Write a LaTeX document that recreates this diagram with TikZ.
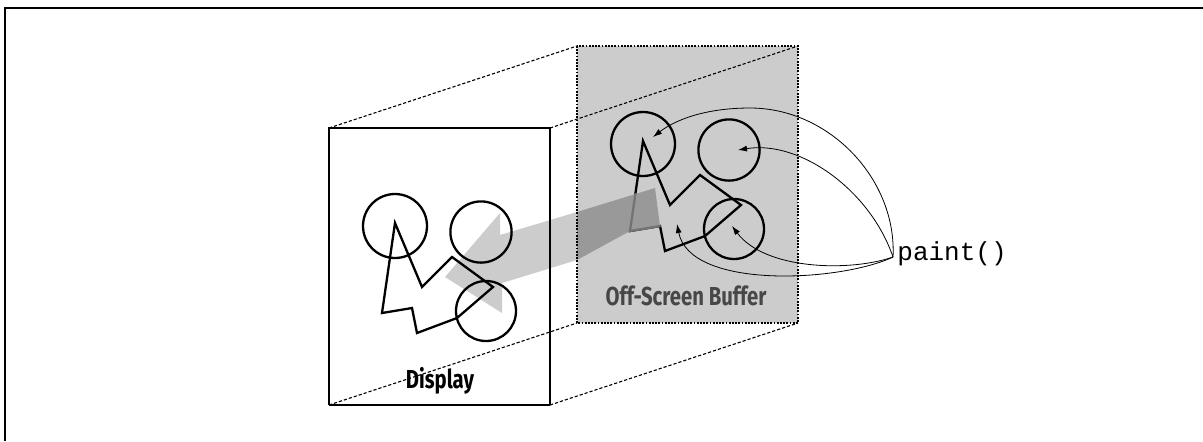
\documentclass[tikz,border=0pt]{standalone}
\usepackage{fontspec}
\newfontfamily\labelfont{Fira Sans}[FakeStretch=0.78]
\newfontfamily\codefont{Liberation Mono}
\usetikzlibrary{arrows.meta,calc}
\tikzset{
  shapeline/.style={line width=1.15pt, line join=miter},
  persp/.style={line width=0.55pt, dash pattern=on 1.6pt off 1pt},
  bufedge/.style={line width=0.8pt, dash pattern=on 0.9pt off 0.7pt},
  callarrow/.style={line width=0.4pt, -{Latex[length=4.5pt,width=3pt]}},
  lbl/.style={font=\labelfont\bfseries\fontsize{13}{15}\selectfont, inner sep=0pt},
  codelbl/.style={font=\codefont\fontsize{13}{15}\selectfont, inner sep=0pt}
}
\newcommand\ScreenShapes[1]{%
  \coordinate (#1A) at (395,223);
  \coordinate (#1B) at (422,287);
  \coordinate (#1C) at (452,257);
  \coordinate (#1D) at (493,287);
  \coordinate (#1E) at (457,318);
  \coordinate (#1F) at (417,333);
  \coordinate (#1G) at (412,308);
  \coordinate (#1H) at (382,313);
  \draw[shapeline] (395,226) circle[radius=16pt];
  \draw[shapeline] (481,232) circle[radius=15.3pt];
  \draw[shapeline] (486,311) circle[radius=15pt];
  \draw[shapeline] (#1A) -- (#1B) -- (#1C) -- (#1D) -- (#1E) -- (#1F) -- (#1G) -- (#1H) -- cycle;
}
\begin{document}
\begin{tikzpicture}[x=0.5pt,y=-0.5pt]
\useasboundingbox (0,0) rectangle (1203,441);
% frame
\draw[line width=1pt] (5,441) -- (5,8) -- (1203,8);
% corners
\coordinate (dTL) at (329,128); \coordinate (dTR) at (550,128);
\coordinate (dBL) at (329,405); \coordinate (dBR) at (550,405);
\coordinate (bTL) at (577,46);  \coordinate (bTR) at (798,46);
\coordinate (bBL) at (577,323); \coordinate (bBR) at (798,323);
% buffer fill
\fill[black!20] (bTL) rectangle (bBR);
% light band with arrow head
\fill[black!20] (577,212) -- (500,235) -- (500,213) -- (445,277) -- (502,313) -- (502,283) -- (577,260) -- cycle;
% buffer shapes
\begin{scope}[shift={(248,-82)}]
  \ScreenShapes{b}
\end{scope}
% dark band inside buffer
\fill[black!40] (577,212) -- (655,188) -- (bG) -- (bH) -- (577,260) -- cycle;
\draw[shapeline, black!55, line cap=round] ($(bH)!0.41!(bA)$) -- (bH) -- (bG);
% buffer border
\draw[bufedge] (bTL) rectangle (bBR);
% perspective lines
\draw[persp] (dTL) -- (bTL);
\draw[persp] (dTR) -- (bTR);
\draw[persp] (dBL) -- (bBL);
\draw[persp] (dBR) -- (bBR);
% display
\draw[line width=0.9pt] (dBL) -- (dTL) -- (dTR) -- (dBR);
\draw[line width=1.3pt] (dBL) -- (dBR);
\ScreenShapes{d}
% paint() calls
\node[codelbl, anchor=base west] (paint) at (897,260) {paint()};
\coordinate (pp) at (893,257);
\coordinate (t1) at (653,137);
\coordinate (t2) at (738,150);
\coordinate (t3) at (732,226);
\coordinate (t4) at (677,224);
\draw[callarrow] (pp) .. controls (897,180) and (830,108) .. (750,108) .. controls (705,108) and (675,120) .. (t1);
\draw[callarrow] (pp) .. controls (870,190) and (800,140) .. (t2);
\draw[callarrow] (pp) .. controls (850,272) and (765,270) .. (t3);
\draw[callarrow] (pp) .. controls (840,282) and (690,290) .. (t4);
% labels
\node[lbl, anchor=base] (disp) at (440,388) {Display};
\node[lbl, text=black!72, anchor=base] (buf) at (686,305) {Off-Screen Buffer};
\end{tikzpicture}
\end{document}
